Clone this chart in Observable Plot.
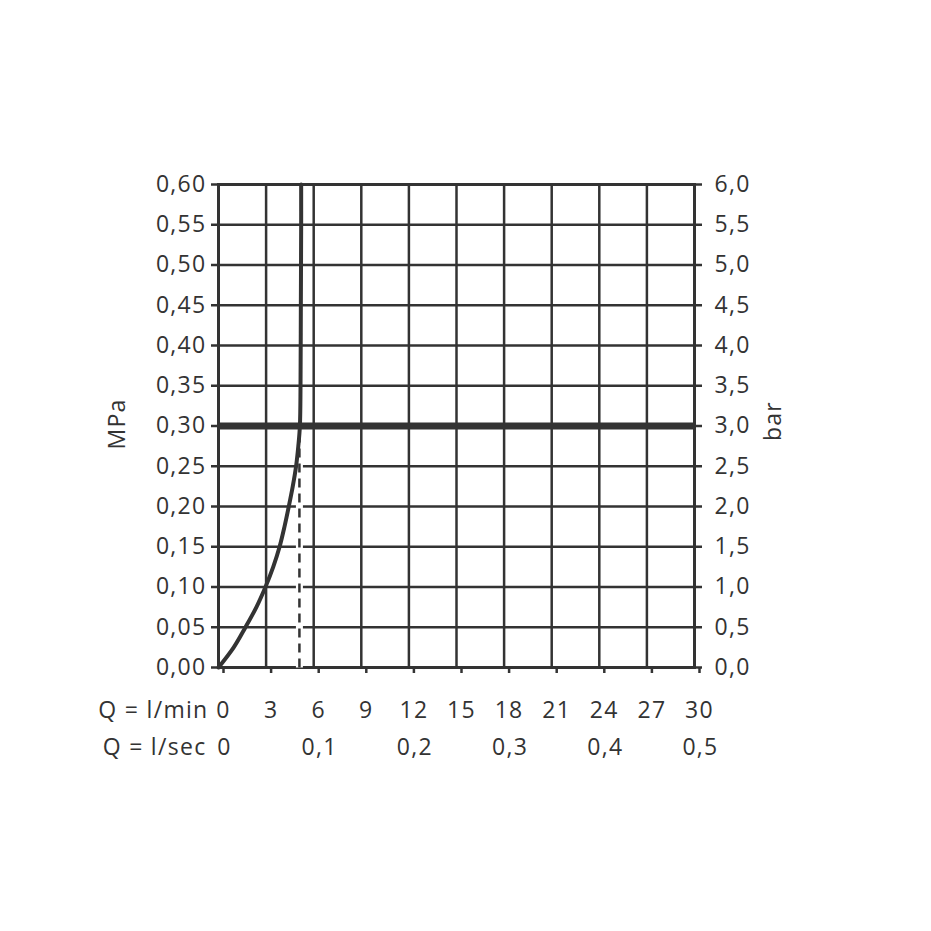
<!DOCTYPE html>
<html>
<head>
<meta charset="utf-8">
<script src="https://cdn.jsdelivr.net/npm/d3@7"></script>
<script src="https://cdn.jsdelivr.net/npm/@observablehq/plot@0.6"></script>
<style>
  html, body { margin: 0; padding: 0; background: #fff; }
  #chart svg { display: block; }
</style>
</head>
<body>
<div id="chart"></div>
<script>
// Axis ticks
const flowTicks = [0, 3, 6, 9, 12, 15, 18, 21, 24, 27, 30];           // l/min
const lsecTicks = [0, 0.1, 0.2, 0.3, 0.4, 0.5];                        // l/sec
const mpaTicks = [0, 0.05, 0.10, 0.15, 0.20, 0.25, 0.30, 0.35, 0.40, 0.45, 0.50, 0.55, 0.60];

// Flow curve (l/min vs MPa)
const curveFlow = [0, 0.96, 1.7, 2.39, 2.96, 3.45, 3.85, 4.16, 4.43, 4.68, 4.89, 5.03, 5.13, 5.17, 5.19, 5.21, 5.21];
const curvePressure = [0, 0.025, 0.05, 0.075, 0.10, 0.125, 0.15, 0.175, 0.20, 0.225, 0.25, 0.275, 0.30, 0.35, 0.45, 0.55, 0.60];

// Reference lines
const nominalPressure = [0.30];       // MPa
const dashedFlow = [5.1, 5.1];        // l/min
const dashedPressure = [0, 0.285];    // MPa

const curve = curveFlow.map((f, i) => ({flow: f, p: curvePressure[i]}));
const dashed = dashedFlow.map((f, i) => ({flow: f, p: dashedPressure[i]}));

const ink = "#333";
const comma = s => s.replace(".", ",");

const chart = Plot.plot({
  width: 931,
  height: 931,
  marginLeft: 218,
  marginRight: 237,
  marginTop: 184,
  marginBottom: 264,
  style: {fontFamily: "'Open Sans', sans-serif", fontSize: "23px", letterSpacing: "1.3px", color: ink, background: "#fff"},
  x: {domain: [0, 30]},
  y: {domain: [0, 0.6]},
  marks: [
    Plot.gridX(flowTicks, {stroke: ink, strokeOpacity: 1, strokeWidth: 2.5}),
    Plot.gridY(mpaTicks, {stroke: ink, strokeOpacity: 1, strokeWidth: 2.5}),
    Plot.frame({stroke: ink, strokeWidth: 3}),
    Plot.axisY(mpaTicks, {anchor: "left", tickSize: 7, tickPadding: 5, strokeWidth: 2.5, stroke: ink,
      tickFormat: d => comma(d.toFixed(2)), label: null, fill: ink}),
    Plot.axisY(mpaTicks, {anchor: "right", tickSize: 7, tickPadding: 13, strokeWidth: 2.5, stroke: ink,
      tickFormat: d => comma((d * 10).toFixed(1)), label: null, fill: ink}),
    Plot.axisX(flowTicks, {anchor: "bottom", tickSize: 6, tickPadding: 28, strokeWidth: 2.5, stroke: ink,
      tickFormat: d => String(d), dx: 5, label: null, fill: ink}),
    Plot.text(lsecTicks, {x: d => d * 60, y: () => 0, text: d => d === 0 ? "0" : comma(d.toFixed(1)),
      dy: 80, dx: 6, fill: ink, lineAnchor: "middle"}),
    Plot.text(["Q = l/min"], {frameAnchor: "bottom-left", dx: -10, dy: 43, textAnchor: "end", lineAnchor: "middle", fill: ink, letterSpacing: "0.6px"}),
    Plot.text(["Q = l/sec"], {frameAnchor: "bottom-left", dx: -12, dy: 80, textAnchor: "end", lineAnchor: "middle", fill: ink, letterSpacing: "0.6px"}),
    Plot.text(["MPa"], {frameAnchor: "left", dx: -101, dy: -2, rotate: -90, textAnchor: "middle", fill: ink}),
    Plot.text(["bar"], {frameAnchor: "right", dx: 79, dy: -5, rotate: -90, textAnchor: "middle", fill: ink}),
    Plot.ruleY(nominalPressure, {stroke: ink, strokeWidth: 7}),
    Plot.line(dashed, {x: "flow", y: "p", stroke: "#fff", strokeWidth: 7, strokeLinecap: "butt"}),
    Plot.line(dashed, {x: "flow", y: "p", stroke: ink, strokeWidth: 2.5, strokeDasharray: "9,6", strokeLinecap: "butt"}),
    Plot.line(curve, {x: "flow", y: "p", stroke: ink, strokeWidth: 4, curve: "catmull-rom"})
  ]
});
document.getElementById("chart").appendChild(chart);
</script>
</body>
</html>
